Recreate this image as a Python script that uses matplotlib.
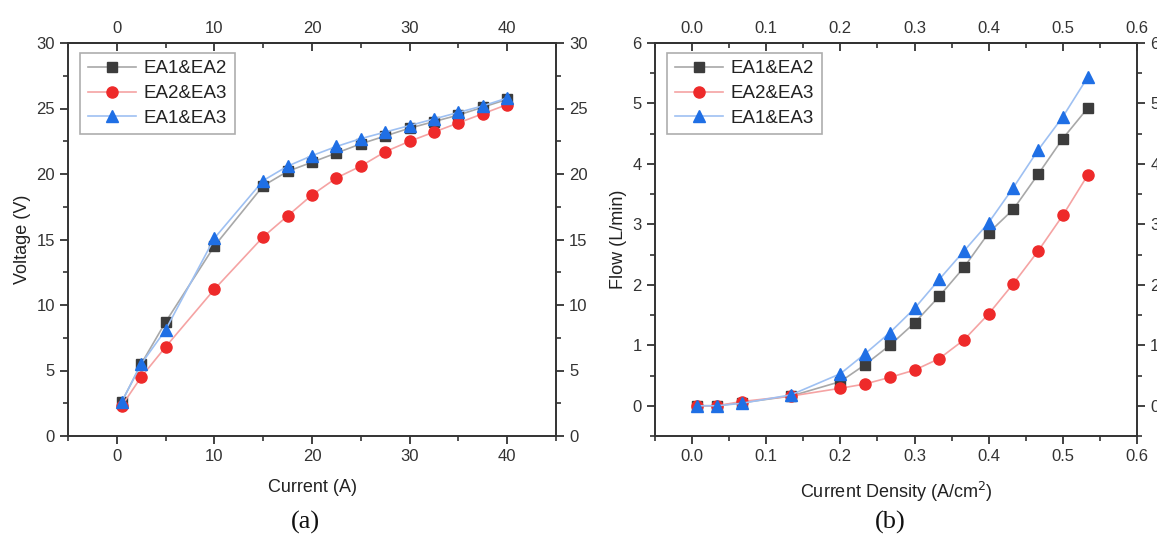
import matplotlib
matplotlib.use("Agg")
import matplotlib.pyplot as plt
from matplotlib.ticker import MultipleLocator

plt.rcParams['font.family'] = ['Liberation Sans', 'DejaVu Sans']

# ---- data ----
current_A = [0.5, 2.5, 5, 10, 15, 17.5, 20, 22.5, 25, 27.5, 30, 32.5, 35, 37.5, 40]
voltage_ea12 = [2.6, 5.5, 8.7, 14.5, 19.1, 20.2, 20.9, 21.6, 22.3, 22.9, 23.5, 24.0, 24.5, 25.1, 25.7]
voltage_ea23 = [2.3, 4.5, 6.8, 11.2, 15.2, 16.8, 18.4, 19.7, 20.6, 21.7, 22.5, 23.2, 23.9, 24.6, 25.3]
voltage_ea13 = [2.6, 5.5, 8.1, 15.1, 19.5, 20.6, 21.4, 22.1, 22.7, 23.2, 23.7, 24.2, 24.7, 25.2, 25.8]

density = [0.0067, 0.0333, 0.0667, 0.1333, 0.2, 0.2333, 0.2667, 0.3, 0.3333,
           0.3667, 0.4, 0.4333, 0.4667, 0.5, 0.5333]
flow_ea12 = [0.0, 0.0, 0.05, 0.16, 0.40, 0.68, 1.00, 1.37, 1.81, 2.29, 2.86, 3.25, 3.83, 4.42, 4.92]
flow_ea23 = [0.0, 0.0, 0.07, 0.16, 0.29, 0.36, 0.47, 0.59, 0.78, 1.09, 1.52, 2.02, 2.56, 3.15, 3.81]
flow_ea13 = [0.0, 0.0, 0.04, 0.18, 0.53, 0.86, 1.21, 1.61, 2.09, 2.56, 3.03, 3.61, 4.23, 4.78, 5.43]

labels = ['EA1&EA2', 'EA2&EA3', 'EA1&EA3']

styles = [
    dict(marker='s', color='#a8a8a8', mfc='#3c3c3c', mec='#3c3c3c', ms=7),
    dict(marker='o', color='#f5a3a3', mfc='#ee2a2a', mec='#ee2a2a', ms=8),
    dict(marker='^', color='#9ec0f2', mfc='#1f6fe5', mec='#1f6fe5', ms=8.5),
]

fig = plt.figure(figsize=(11.57, 5.42), dpi=100)
W, H = 1157, 542

def make_ax(x0, x1, y0, y1):
    return fig.add_axes([x0 / W, 1 - y1 / H, (x1 - x0) / W, (y1 - y0) / H])

axL = make_ax(68, 556, 43, 436)
axR = make_ax(655, 1137, 43, 436)

tick_col = '#333333'

def style_axis(ax, xlim, ylim, xmaj, xmin, ymaj, ymin):
    ax.set_xlim(*xlim)
    ax.set_ylim(*ylim)
    ax.xaxis.set_major_locator(MultipleLocator(xmaj))
    ax.xaxis.set_minor_locator(MultipleLocator(xmin))
    ax.yaxis.set_major_locator(MultipleLocator(ymaj))
    ax.yaxis.set_minor_locator(MultipleLocator(ymin))
    for s in ax.spines.values():
        s.set_linewidth(1.4)
        s.set_color('#333333')
    ax.tick_params(which='both', direction='out', colors=tick_col, labelsize=12,
                   left=True, right=True, labelright=True, top=False, bottom=True)
    ax.tick_params(which='major', length=6, width=1.3)
    ax.tick_params(which='minor', length=3.5, width=1.2)
    sec = ax.secondary_xaxis('top')
    sec.xaxis.set_major_locator(MultipleLocator(xmaj))
    sec.xaxis.set_minor_locator(MultipleLocator(xmin))
    sec.tick_params(which='both', direction='in', colors=tick_col, labelsize=12)
    sec.tick_params(which='major', length=6, width=1.3, pad=5)
    sec.tick_params(which='minor', length=3.5, width=1.2)
    sec.spines['top'].set_linewidth(1.4)
    sec.spines['top'].set_color('#333333')
    return sec

secL = style_axis(axL, (-5, 45), (0, 30), 10, 5, 5, 2.5)
secR = style_axis(axR, (-0.05, 0.6), (-0.5, 6), 0.1, 0.05, 1, 0.5)
axR.xaxis.set_major_formatter(plt.FuncFormatter(lambda v, p: f"{v:.1f}"))
secR.xaxis.set_major_formatter(plt.FuncFormatter(lambda v, p: f"{v:.1f}"))
axR.yaxis.set_major_formatter(plt.FuncFormatter(lambda v, p: f"{v:.0f}"))

for ys, lab, st in zip([voltage_ea12, voltage_ea23, voltage_ea13], labels, styles):
    axL.plot(current_A, ys, lw=1.2, label=lab, **st)
for ys, lab, st in zip([flow_ea12, flow_ea23, flow_ea13], labels, styles):
    axR.plot(density, ys, lw=1.2, label=lab, **st)

for ax in (axL, axR):
    leg = ax.legend(loc='upper left', bbox_to_anchor=(0.025, 0.975), fontsize=13.5,
                    frameon=True, fancybox=False, edgecolor='#999999',
                    handlelength=2.6, handletextpad=0.4, labelspacing=0.4,
                    borderpad=0.4, borderaxespad=0.0)
    leg.get_frame().set_linewidth(1.2)
    for t in leg.get_texts():
        t.set_color('#222222')

axL.set_xlabel('Current (A)', fontsize=13, color='#222222', labelpad=11)
axL.set_ylabel('Voltage (V)', fontsize=13, color='#222222', labelpad=4)
axR.set_xlabel('Current Density (A/cm$^2$)', fontsize=13, color='#222222', labelpad=11)
axR.set_ylabel('Flow (L/min)', fontsize=13, color='#222222', labelpad=4)

fig.text(305 / W, 1 - 522 / H, '(a)', fontsize=19, family='Liberation Serif',
         ha='center', va='center', color='#111111')
fig.text(890 / W, 1 - 522 / H, '(b)', fontsize=19, family='Liberation Serif',
         ha='center', va='center', color='#111111')

fig.savefig('out.png', dpi=100, facecolor='white')
